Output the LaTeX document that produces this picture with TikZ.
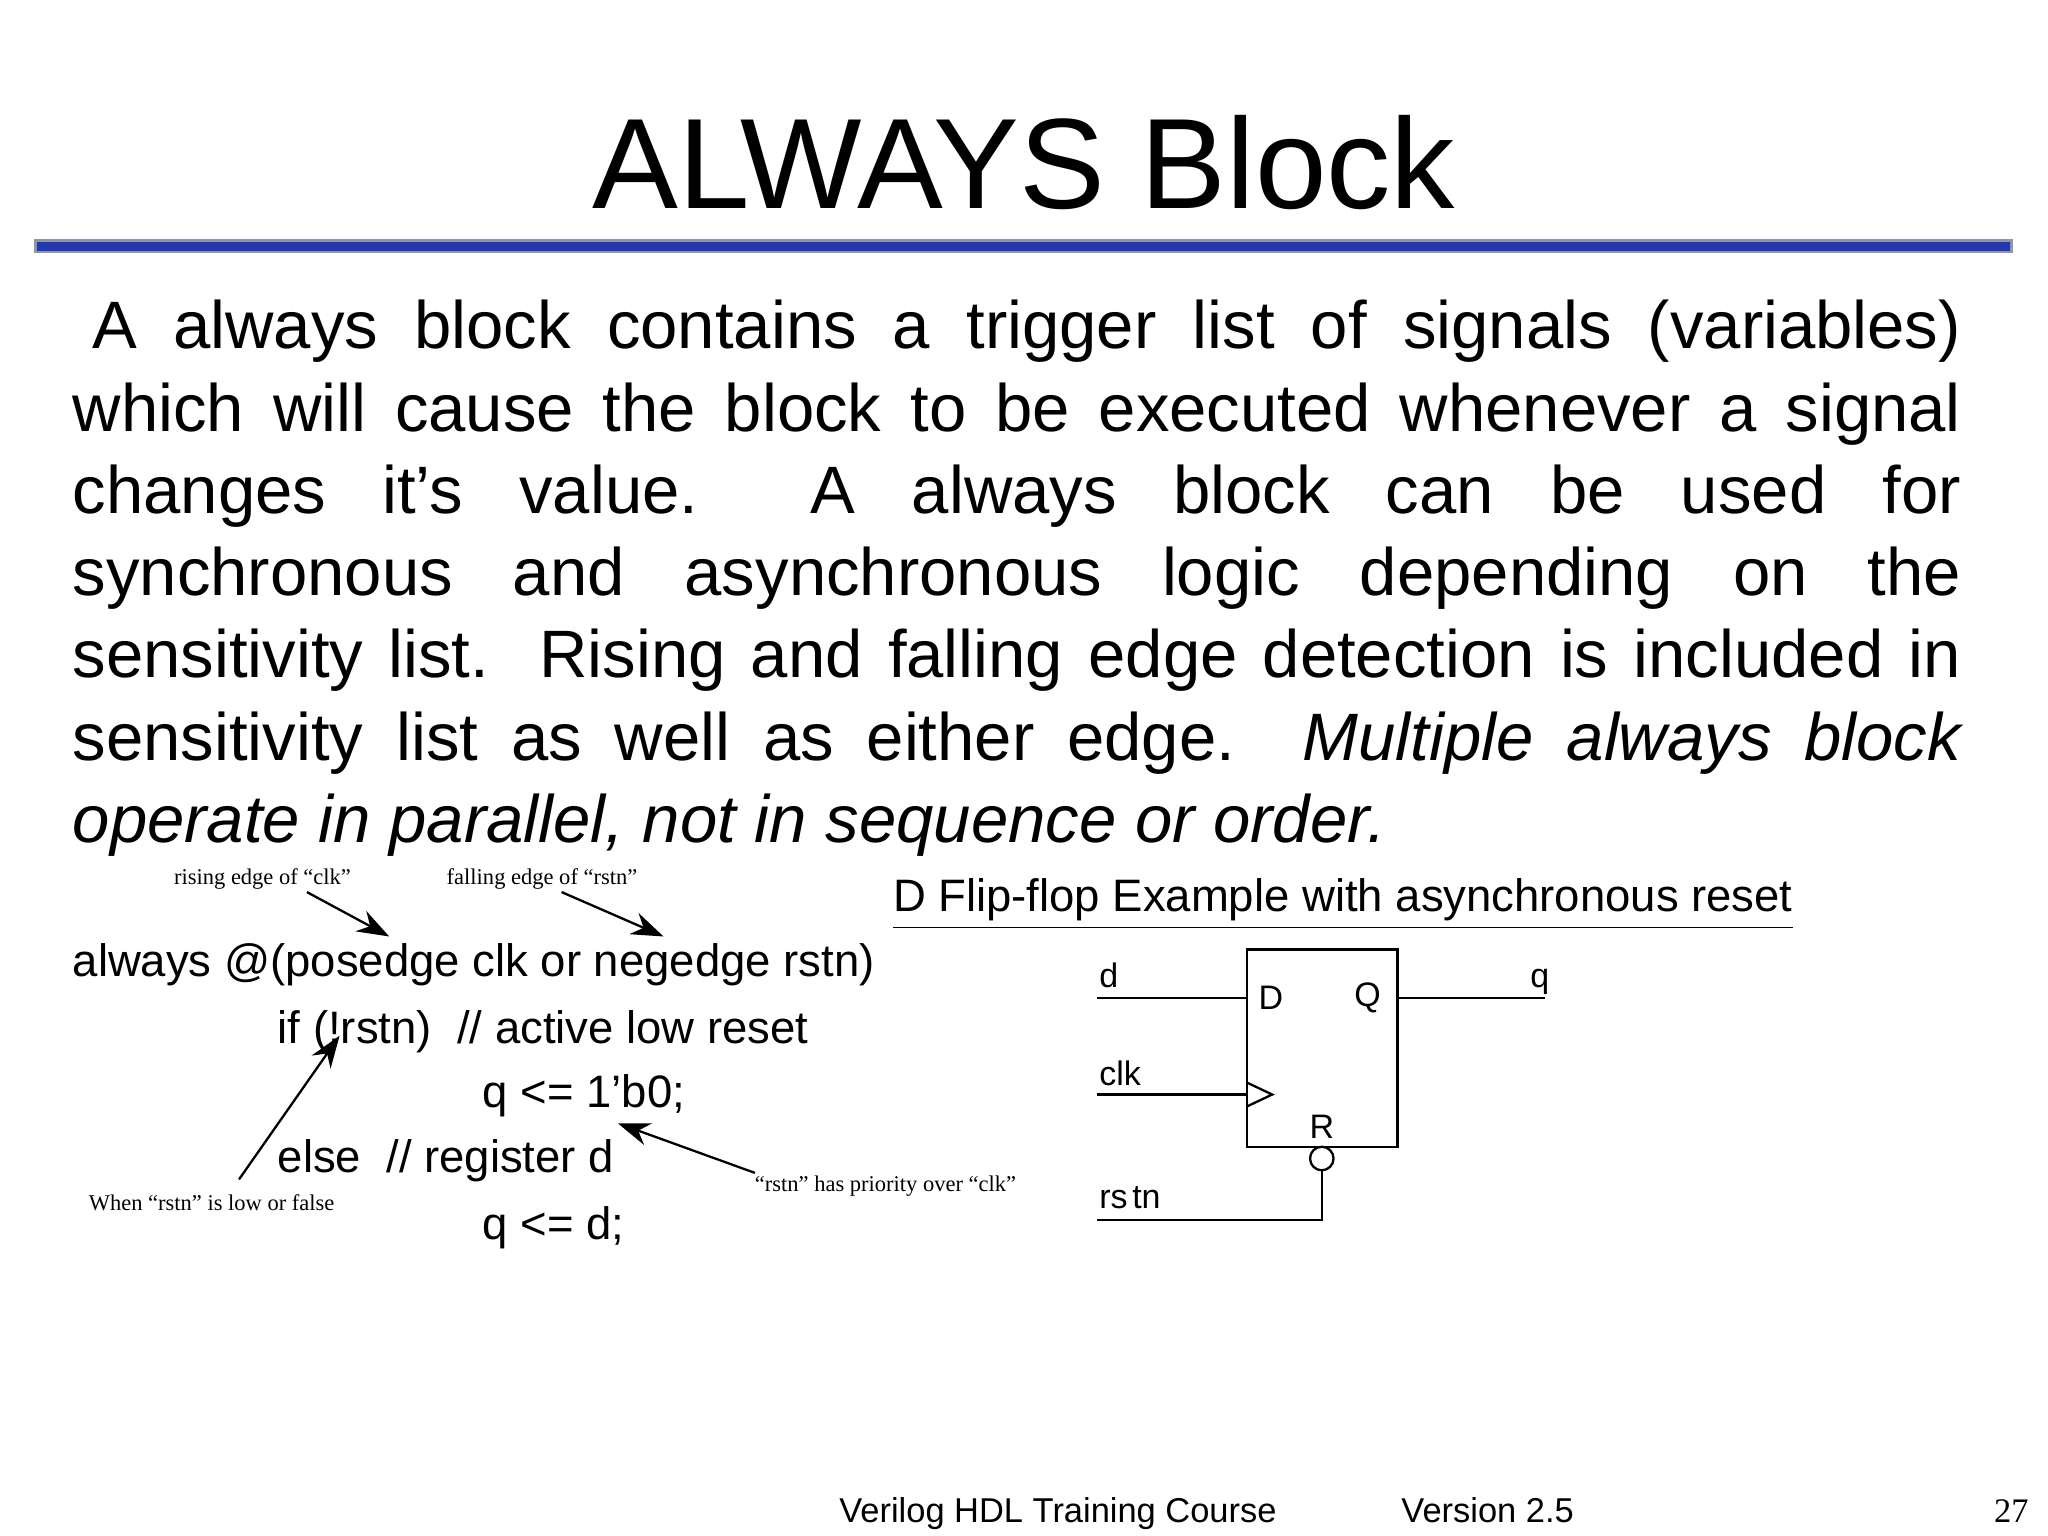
\documentclass[tikz,border=0pt]{standalone}
\usepackage{fontspec}
\setmainfont{Liberation Sans}
\newfontfamily\tms{Liberation Serif}
\usetikzlibrary{arrows.meta}
\begin{document}
\begin{tikzpicture}[x=0.01cm,y=-0.01cm,
  body/.style={anchor=base west,inner sep=0,font=\fontsize{14.6pt}{16pt}\selectfont},
  code/.style={anchor=base west,inner sep=0,font=\fontsize{9.9pt}{11pt}\selectfont},
  lab/.style={anchor=base west,inner sep=0,font=\fontsize{7.4pt}{9pt}\selectfont},
  note/.style={inner sep=0,font=\tms\fontsize{4.9pt}{6pt}\selectfont},
  arr/.style={-{Stealth[length=7pt,width=5pt]},line width=0.5pt},
  wire/.style={line width=0.5pt}]
\useasboundingbox (0,0) rectangle (1568,1176);
\node[anchor=base,inner sep=0,font=\fontsize{28pt}{32pt}\selectfont] (title) at (784,160) {ALWAYS Block};
\filldraw[fill={rgb,255:red,35;green,55;blue,175},draw={rgb,255:red,140;green,150;blue,170},line width=0.6pt] (27,184) rectangle (1540,193);
\def\W{14.45cm}
\node[body] (l1) at (55,267) {\makebox[\W][s]{\hspace{0.15cm}A always block contains a trigger list of signals (variables)}};
\node[body] (l2) at (55,330) {\makebox[\W][s]{which will cause the block to be executed whenever a signal}};
\node[body] (l3) at (55,393) {\makebox[\W][s]{changes it’s value.\ \ A always block can be used for}};
\node[body] (l4) at (55,456) {\makebox[\W][s]{synchronous and asynchronous logic depending on the}};
\node[body] (l5) at (55,519) {\makebox[\W][s]{sensitivity list.\ \ Rising and falling edge detection is included in}};
\node[body] (l6) at (55,582) {\makebox[\W][s]{sensitivity list as well as either edge. \itshape Multiple always block}};
\node[body] (l7) at (55,645) {\itshape operate in parallel, not in sequence or order.};
% code
\node[code] (c1) at (55,748) {always @(posedge clk or negedge rstn)};
\node[code] (c2) at (212,799) {if (!rstn)\ \ // active low reset};
\node[code] (c3) at (369,848) {q <= 1’b0;};
\node[code] (c4) at (212,898) {else\ \ // register d};
\node[code] (c5) at (369,949) {q <= d;};
\node[note] (n1) at (201,673) {rising edge of “clk”};
\node[note] (n2) at (415,673) {falling edge of “rstn”};
\node[note] (n3) at (162,921) {When “rstn” is low or false};
\node[note] (n4) at (678,908) {“rstn” has priority over “clk”};
\coordinate (t1) at (298,717); \coordinate (t2) at (508,717);
\coordinate (t3) at (260,793); \coordinate (t4) at (473,860);
\draw[arr] (235,683) -- (t1);
\draw[arr] (430,683) -- (t2);
\draw[arr] (183,903) -- (t3);
\draw[arr] (578,898) -- (t4);
% flip-flop
\node[code] (ft) at (683,698) {\underline{D Flip-flop Example with asynchronous reset}};
\draw[wire] (955,727) rectangle (1070,878);
\node[lab,anchor=center] (D) at (973,764) {D};
\node[lab,anchor=center] (Q) at (1047,764) {Q};
\node[lab,anchor=center] (R) at (1012,863) {R};
\coordinate (din) at (840,764); \coordinate (dd) at (955,764);
\coordinate (qo) at (1183,764); \coordinate (qq) at (1070,764);
\draw[wire] (din) -- (dd);
\draw[wire] (qq) -- (qo);
\node[lab] (ld) at (841,756) {d};
\node[lab] (lq) at (1171,756) {q};
\coordinate (cin) at (840,838); \coordinate (cc) at (955,838);
\draw[wire] (cin) -- (cc);
\draw[wire] (955,829) -- (974,838) -- (955,847);
\node[lab] (lc) at (841,831) {clk};
\node[draw,circle,inner sep=0,minimum size=0.18cm,line width=0.5pt] (bub) at (1012,887) {};
\coordinate (rin) at (840,934);
\draw[wire] (bub.south) |- (rin);
\node[lab] (lr) at (841,925) {rs\hspace{1pt}tn};
% footer
\node[anchor=base,inner sep=0,font=\fontsize{7.5pt}{9pt}\selectfont] (f1) at (810,1166) {Verilog HDL Training Course};
\node[anchor=base,inner sep=0,font=\fontsize{7.5pt}{9pt}\selectfont] (f2) at (1139,1166) {Version 2.5};
\node[anchor=base,inner sep=0,font=\tms\fontsize{7.5pt}{9pt}\selectfont] (f3) at (1540,1166) {27};
\end{tikzpicture}
\end{document}
